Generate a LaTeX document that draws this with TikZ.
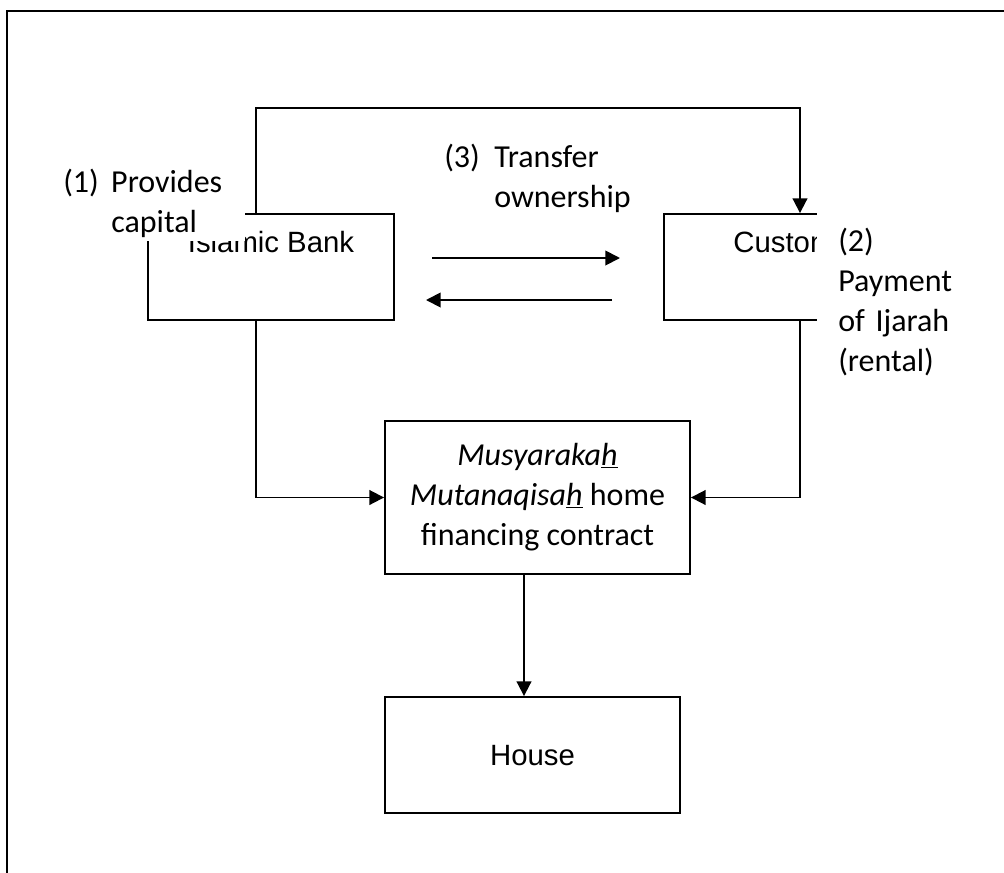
\documentclass[tikz,border=0pt]{standalone}
\usepackage{fontspec}
\setmainfont{Carlito}
\newfontfamily\arialfont{Liberation Sans}
\usetikzlibrary{arrows.meta}

\begin{document}
\begin{tikzpicture}[x=0.75pt,y=-0.75pt,font=\fontsize{24}{30}\selectfont,
    box/.style={draw,line width=1.4pt,inner sep=0pt,align=center},
    boxtext/.style={font=\arialfont\fontsize{22}{25}\selectfont,text height=15pt},
    link/.style={line width=1.4pt},
    arr/.style={link,-{Triangle[length=11pt,width=11pt]}},
    remark/.style={fill=white,align=left,inner sep=0pt}]
    \useasboundingbox (0,0) rectangle (1004,872);
    \clip (0,0) rectangle (1004,872);
    \draw[link] (7,11) rectangle (1030,900);
    \coordinate (bx) at (256,108); \coordinate (cx) at (800,108); \coordinate (hx) at (524,600);
    \coordinate (goA) at (432,258); \coordinate (goB) at (620,258);
    \coordinate (backA) at (612,300); \coordinate (backB) at (426,300);
    \node[box,boxtext,text depth=37.5pt,minimum width=184.5pt,minimum height=79.5pt] (bank) at (271,267) {Islamic Bank};
    \node[box,boxtext,text depth=37.5pt,minimum width=199.5pt,minimum height=79.5pt] (cust) at (797,267) {Customer};
    \node[box,minimum width=228.75pt,minimum height=114.75pt] (contract) at (537.5,497.5)
      {\textit{Musyaraka\underline{h}}\\\textit{Mutanaqisa\underline{h}} home\\financing contract};
    \node[box,boxtext,text depth=0pt,minimum width=221.25pt,minimum height=87pt] (house) at (532.5,755) {House};
    \draw[arr] (bank.north -| bx) -- (bx) -- (cx) -- (cust.north -| cx);
    \draw[arr] (goA) -- (goB); \draw[arr] (backA) -- (backB);
    \draw[arr] (bank.south -| bx) |- (contract.west);
    \draw[arr] (cust.south -| cx) |- (contract.east);
    \draw[arr] (contract.south -| hx) -- (house.north -| hx);
    \node[remark,anchor=south west,inner xsep=9.75pt,inner ysep=2.25pt,text width=126.75pt] (capital) at (50,241)
      {\makebox[36pt][l]{(1)}Provides\\\makebox[36pt]{}capital};
    \node[remark,anchor=north west,inner sep=3pt] (transfer) at (440,140)
      {\makebox[37.5pt][l]{(3)}Transfer\\\makebox[37.5pt]{}ownership};
    \node[remark,anchor=north west,inner xsep=15.75pt,inner ysep=17pt,text width=92pt] (payment) at (817,205)
      {(2)\\Payment\\of Ijarah\\(rental)};
\end{tikzpicture}
\end{document}
